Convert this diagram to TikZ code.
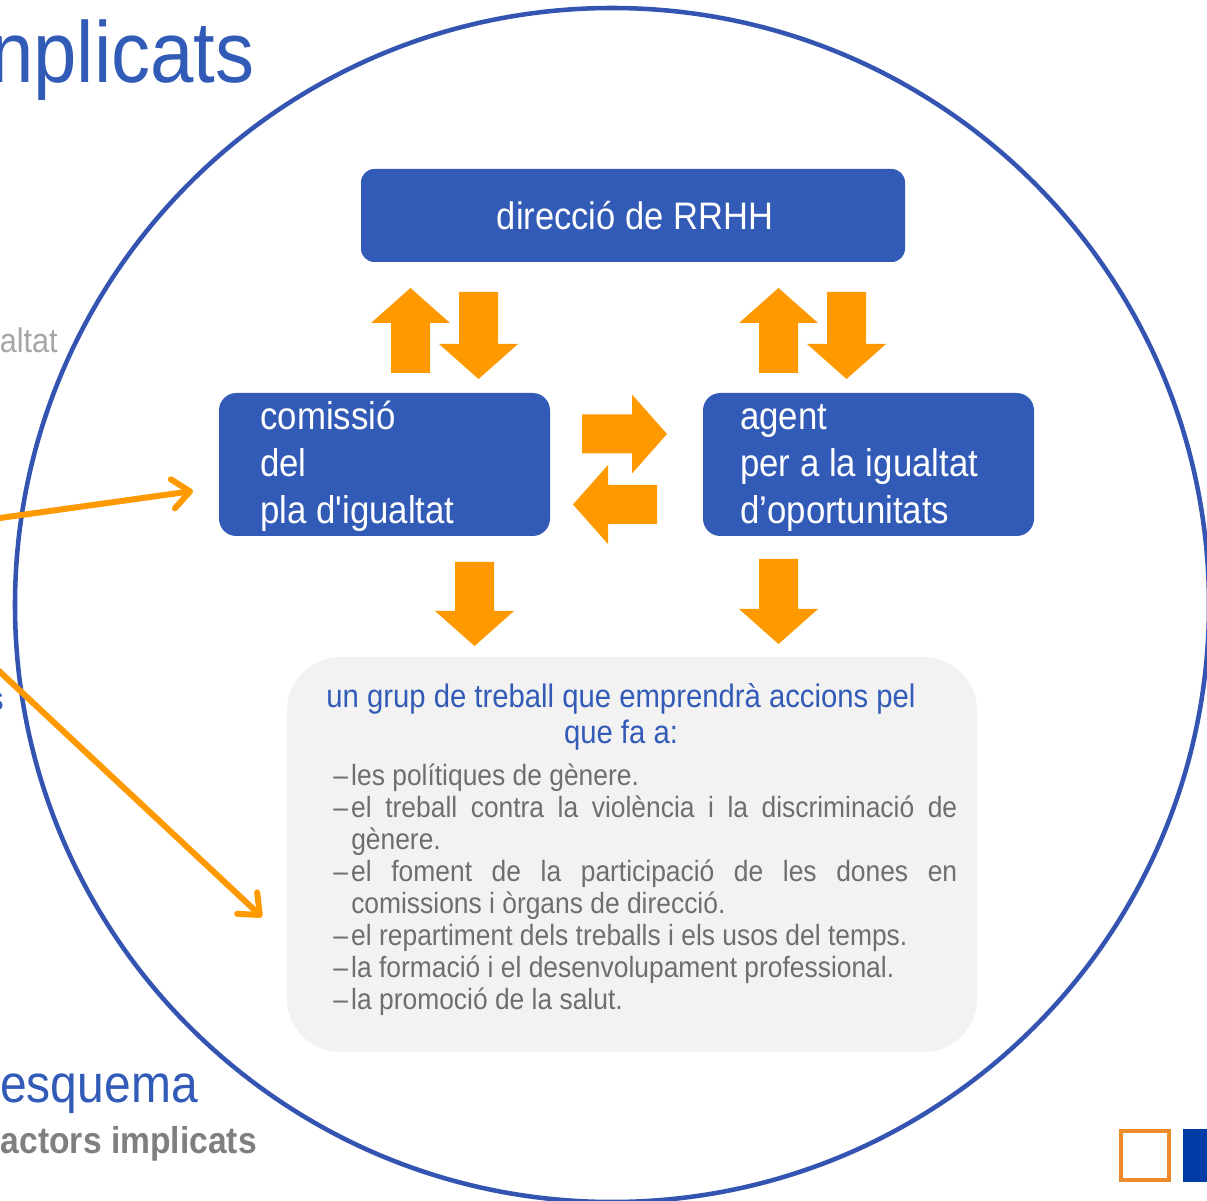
\documentclass[tikz,border=0pt]{standalone}
\usepackage{fontspec}
\setmainfont[FakeStretch=0.9,Ligatures=TeXOff]{Liberation Sans}
\usetikzlibrary{arrows.meta}
\definecolor{boxblue}{RGB}{50,91,183}
\definecolor{ringblue}{RGB}{52,84,178}
\definecolor{orng}{RGB}{255,153,0}
\definecolor{sqorange}{RGB}{237,138,42}
\definecolor{sqblue}{RGB}{0,60,166}
\definecolor{panel}{RGB}{242,242,242}
\definecolor{bullgray}{RGB}{110,110,110}
\definecolor{ltgray}{RGB}{166,166,166}
\definecolor{subgray}{RGB}{127,127,127}
\newcommand{\arrUp}[3]{\fill[orng] (#1,#2) -- ({#1+39.5},{#2+35}) -- ({#1+19.5},{#2+35}) -- ({#1+19.5},#3) -- ({#1-19.5},#3) -- ({#1-19.5},{#2+35}) -- ({#1-39.5},{#2+35}) -- cycle;}
\newcommand{\arrDown}[3]{\fill[orng] (#1,#2) -- ({#1+39.5},{#2-35}) -- ({#1+19.5},{#2-35}) -- ({#1+19.5},#3) -- ({#1-19.5},#3) -- ({#1-19.5},{#2-35}) -- ({#1-39.5},{#2-35}) -- cycle;}
\newcommand{\arrRight}[3]{\fill[orng] (#2,#1) -- ({#2-35},{#1-39.5}) -- ({#2-35},{#1-19.5}) -- (#3,{#1-19.5}) -- (#3,{#1+19.5}) -- ({#2-35},{#1+19.5}) -- ({#2-35},{#1+39.5}) -- cycle;}
\newcommand{\arrLeft}[3]{\fill[orng] (#2,#1) -- ({#2+35},{#1-39.5}) -- ({#2+35},{#1-19.5}) -- (#3,{#1-19.5}) -- (#3,{#1+19.5}) -- ({#2+35},{#1+19.5}) -- ({#2+35},{#1+39.5}) -- cycle;}
\tikzset{
  bluebox/.style={fill=boxblue, inner sep=0pt},
  boxtext/.style={anchor=base west, inner sep=0pt, text=white},
  plaintext/.style={inner sep=0pt},
  linkarrow/.style={draw=orng, line width=4.5pt, line cap=round, -{Straight Barb[length=13pt,width=22pt,round]}},
}
\begin{document}
\begin{tikzpicture}[x=0.75pt,y=-0.75pt]
\path[use as bounding box] (0,0) rectangle (1207,1201);
\clip (0,0) rectangle (1207,1201);
\fill[white] (0,0) rectangle (1207,1201);

% boxes
\node[bluebox, rounded corners=10pt, minimum width=408pt, minimum height=69.75pt] (rrhh) at (633,215.5) {};
\node[bluebox, rounded corners=13pt, minimum width=248.25pt, minimum height=107.25pt] (com) at (384.5,464.5) {};
\node[bluebox, rounded corners=13pt, minimum width=248.25pt, minimum height=107.25pt] (agent) at (868.5,464.5) {};
\node[fill=panel, inner sep=0pt, rounded corners=40pt, minimum width=517.5pt, minimum height=296.25pt] (panel) at (632,854.5) {};

% block arrows
\arrUp{410.5}{288}{373}
\arrDown{478.5}{379}{292}
\arrUp{778.5}{288}{373}
\arrDown{846.5}{379}{292}
\arrRight{434}{667}{582}
\arrLeft{504.5}{573}{657}
\arrDown{474.5}{646}{562}
\arrDown{778.5}{644}{559}

% big ring
\draw[ringblue, line width=3.4pt] (612,605) circle[radius=447.75pt];

% incoming arrows from the left
\coordinate (s1) at (-10,519.4);
\coordinate (t1) at (193,491);
\coordinate (s2) at (-10,662.6);
\coordinate (t2) at (262,917);
\draw[linkarrow] (s1) -- (t1);
\draw[linkarrow] (s2) -- (t2);

% texts in boxes
\node[plaintext, anchor=base, text=white, font=\fontsize{28.75pt}{34pt}\selectfont] (rrhhtxt) at (635,230) {direcció de RRHH};
\node[boxtext] (comtxt) at (260,430) {\vtop{\fontsize{29pt}{34.9pt}\selectfont\hbox{comissió}\hbox{del}\hbox{pla d'igualtat}}};
\node[boxtext] (agenttxt) at (740,430) {\vtop{\fontsize{29pt}{34.9pt}\selectfont\hbox{agent}\hbox{per a la igualtat}\hbox{d’oportunitats}}};

% panel text
\node[plaintext, anchor=base, text=boxblue] (head) at (621,707) {\vtop{\fontsize{24.4pt}{27pt}\selectfont\halign{\hfil#\hfil\cr un grup de treball que emprendrà accions pel\cr que fa a:\cr}}};
\node[plaintext, anchor=base west, text=bullgray] (items) at (333,785) {\vtop{\hsize=468pt\fontsize{22pt}{24pt}\selectfont\parindent=0pt\hyphenpenalty=10000\exhyphenpenalty=10000\tolerance=9999
\hangindent=13.5pt\hangafter=1\makebox[13.5pt][l]{–}les polítiques de gènere.\par
\hangindent=13.5pt\hangafter=1\makebox[13.5pt][l]{–}el treball contra la violència i la discriminació de\linebreak gènere.\par
\hangindent=13.5pt\hangafter=1\makebox[13.5pt][l]{–}el foment de la participació de les dones en\linebreak comissions i òrgans de direcció.\par
\hangindent=13.5pt\hangafter=1\makebox[13.5pt][l]{–}el repartiment dels treballs i els usos del temps.\par
\hangindent=13.5pt\hangafter=1\makebox[13.5pt][l]{–}la formació i el desenvolupament professional.\par
\hangindent=13.5pt\hangafter=1\makebox[13.5pt][l]{–}la promoció de la salut.\par}};

% side texts
\node[plaintext, anchor=base east, text=boxblue, font=\fontsize{65pt}{78pt}\selectfont] (title) at (255,83) {nplicats};
\node[plaintext, anchor=base east, text=ltgray, font=\fontsize{25.5pt}{30pt}\selectfont] (altat) at (58,353) {altat};
\node[plaintext, anchor=base east, text=boxblue, font=\fontsize{25pt}{30pt}\selectfont] (sfrag) at (4,710) {s};
\node[plaintext, anchor=base east, text=boxblue, font=\fontsize{40pt}{48pt}\selectfont] (esquema) at (198,1102) {esquema};
\node[plaintext, anchor=base east, text=subgray, font=\bfseries\fontsize{28pt}{33pt}\selectfont] (sub) at (257,1153) {actors implicats};

% corner squares
\draw[sqorange, line width=3pt] (1121,1131) rectangle (1169,1180);
\fill[sqblue] (1183,1129) rectangle (1215,1182);
\end{tikzpicture}
\end{document}
